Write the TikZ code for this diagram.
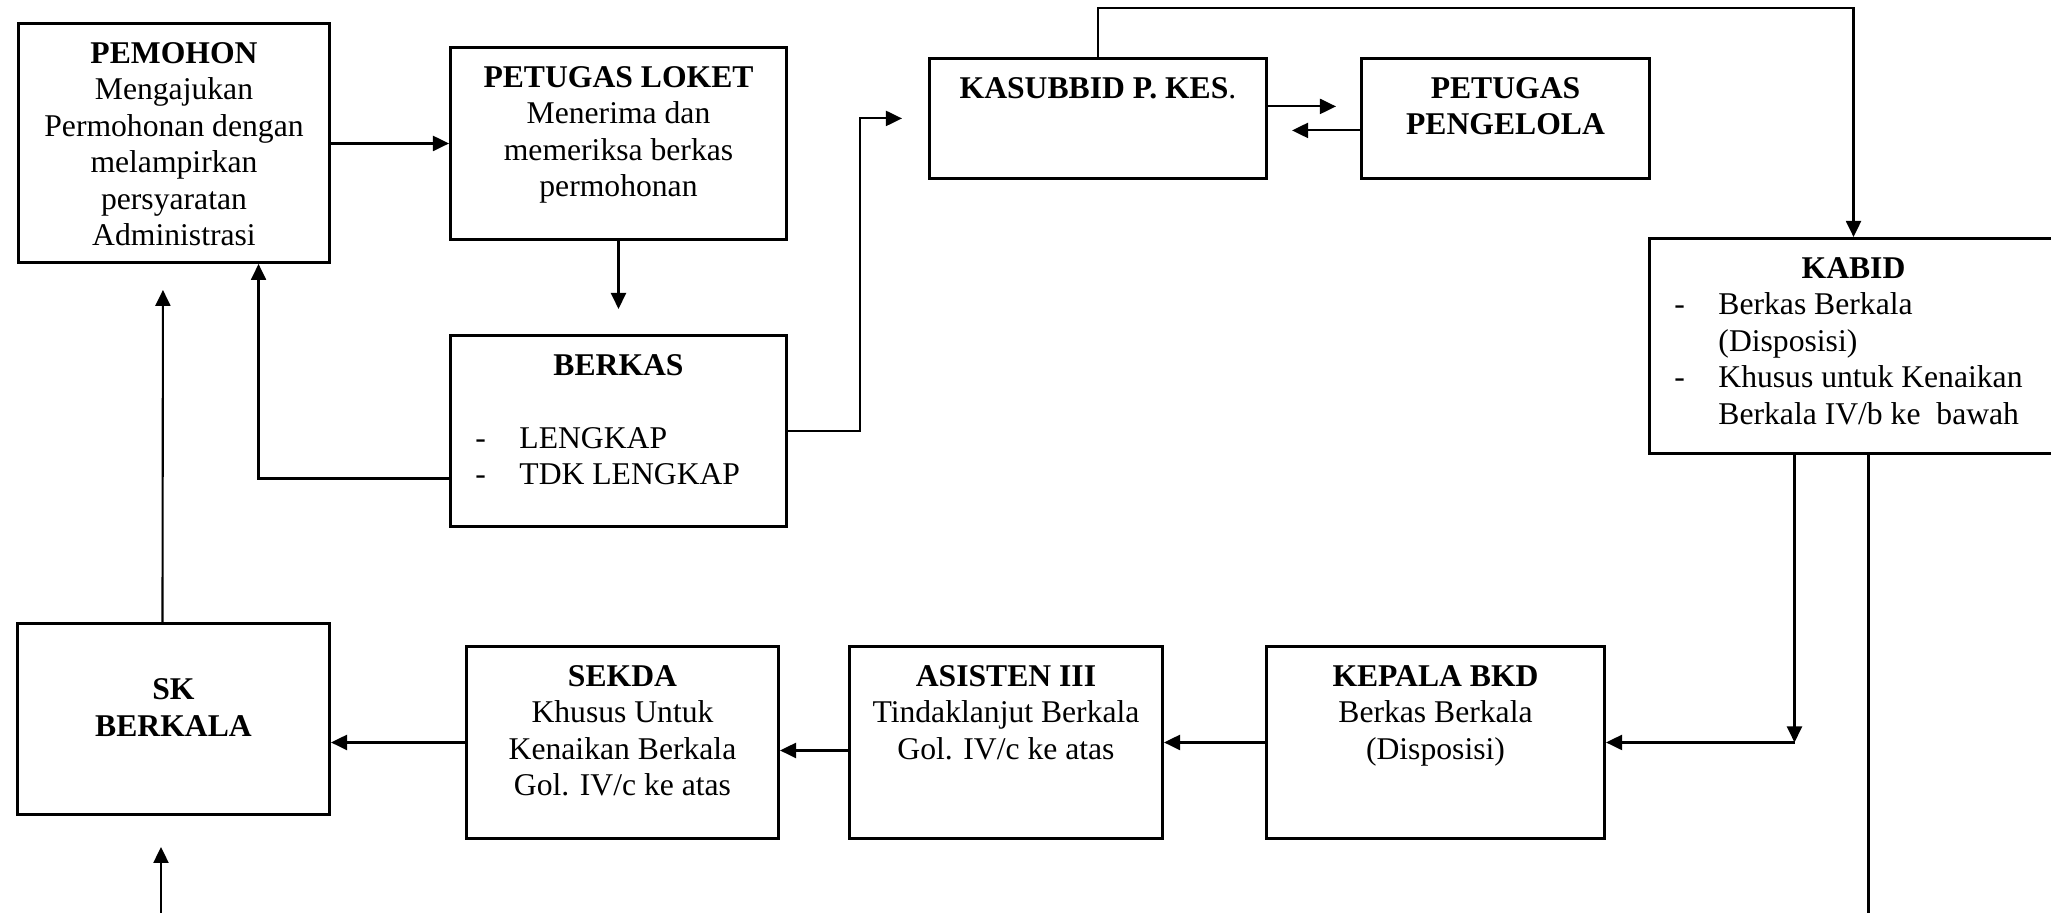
\documentclass[tikz,border=0pt]{standalone}
\usepackage{fontspec}
\setmainfont{Liberation Serif}
\usepackage{tikz}
\usetikzlibrary{arrows.meta,positioning}
\setlength{\parskip}{0pt}
\newcommand{\isi}[3]{\parbox[c][#2][t]{#1}{\centering\vspace*{0.14cm}\strut#3}}
\newcommand{\butir}[1]{\hspace*{0.25cm}\makebox[0.44cm][l]{-}#1}
\newcommand{\lanjut}[1]{\hspace*{0.69cm}#1}
\tikzset{>={Triangle[length=0.16cm,width=0.15cm]},
	kotak/.style={draw, line width=0.8pt, inner sep=0pt, anchor=north west},
	every path/.append style={line width=0.6pt}}

\begin{document}
\begin{tikzpicture}[x=0.01cm, y=-0.01cm, font=\fontsize{9}{10.4}\selectfont]
	\useasboundingbox (0,0) rectangle (2051,913);
	\node[kotak] (pemohon) at (17,22) {\isi{3.11cm}{2.39cm}{\textbf{PEMOHON}\\ Mengajukan\\ Permohonan dengan\\ melampirkan\\ persyaratan\\ Administrasi}};
	\node[kotak] (loket) at (449,46) {\isi{3.36cm}{1.92cm}{\textbf{PETUGAS LOKET}\\ Menerima dan\\ memeriksa berkas\\ permohonan}};
	\node[kotak] (berkas) at (449,334) {\isi{3.36cm}{1.91cm}{\textbf{BERKAS}\par\vspace{\baselineskip}\raggedright
			\butir{LENGKAP}\\
			\butir{TDK LENGKAP}}};
	\node[kotak] (kasubbid) at (928,57) {\isi{3.37cm}{1.20cm}{\textbf{KASUBBID P. KES}.}};
	\node[kotak] (pengelola) at (1360,57) {\isi{2.88cm}{1.20cm}{\textbf{PETUGAS}\\ \textbf{PENGELOLA}}};
	\node[kotak] (kabid) at (1648,237) {\isi{4.08cm}{2.15cm}{\textbf{KABID}\par\raggedright
			\butir{Berkas Berkala}\\
			\lanjut{(Disposisi)}\\
			\butir{Khusus untuk Kenaikan}\\
			\lanjut{Berkala IV/b ke\ \ bawah}}};
	\node[kotak] (sk) at (16,622) {\isi{3.12cm}{1.91cm}{\\ \textbf{SK}\\ \textbf{BERKALA}}};
	\node[kotak] (sekda) at (465,645) {\isi{3.12cm}{1.92cm}{\textbf{SEKDA}\\ Khusus Untuk\\ Kenaikan Berkala\\ Gol. IV/c ke atas}};
	\node[kotak] (asisten) at (848,645) {\isi{3.13cm}{1.92cm}{\textbf{ASISTEN III}\\ Tindaklanjut Berkala\\ Gol. IV/c ke atas}};
	\node[kotak] (kepala) at (1265,645) {\isi{3.38cm}{1.92cm}{\textbf{KEPALA BKD}\\ Berkas Berkala\\ (Disposisi)}};
	\path ([xshift=-0.59cm]kabid.south) coordinate (turun);
	\coordinate (belok) at (turun |- kepala.east);
	\path ([xshift=0.15cm]kabid.south) coordinate (lurus);
	\coordinate (bawah) at (lurus |- 0,913);
	\coordinate (masuk) at (161,913);
	\draw[->] (pemohon.east |- loket.west) -- (loket.west);
	\draw[->, shorten >=0.25cm] (loket) -- (berkas);
	\draw[->] ([yshift=-0.475cm]berkas.west) -| ([xshift=0.845cm]pemohon.south);
	\draw[->] (berkas.east) -- +(0.72cm,0) |- ([xshift=-0.26cm]kasubbid.west);
	\draw[->, shorten >=0.24cm] ([yshift=0.12cm]kasubbid.east) -- ([yshift=0.12cm]pengelola.west);
	\draw[->, shorten >=0.24cm] ([yshift=-0.12cm]pengelola.west) -- ([yshift=-0.12cm]kasubbid.east);
	\draw[->] (kasubbid.north) -- ++(0,0.49cm) -| (kabid.north);
	\draw[->] (turun) -- (belok);
	\draw[->] (belok) -- (kepala.east);
	\draw (lurus) -- (bawah);
	\draw[->] (kepala.west) -- (asisten.east);
	\draw[->] ([yshift=-0.08cm]asisten.west) -- ([yshift=-0.08cm]sekda.east);
	\draw[->] (sekda.west) -- (sekda.west -| sk.east);
	\draw[->, shorten >=0.26cm] ([xshift=-0.11cm]sk.north) -- ([xshift=-0.11cm]pemohon.south);
	\draw[->, shorten >=0.31cm] (masuk) -- (masuk |- sk.south);
\end{tikzpicture}
\end{document}
